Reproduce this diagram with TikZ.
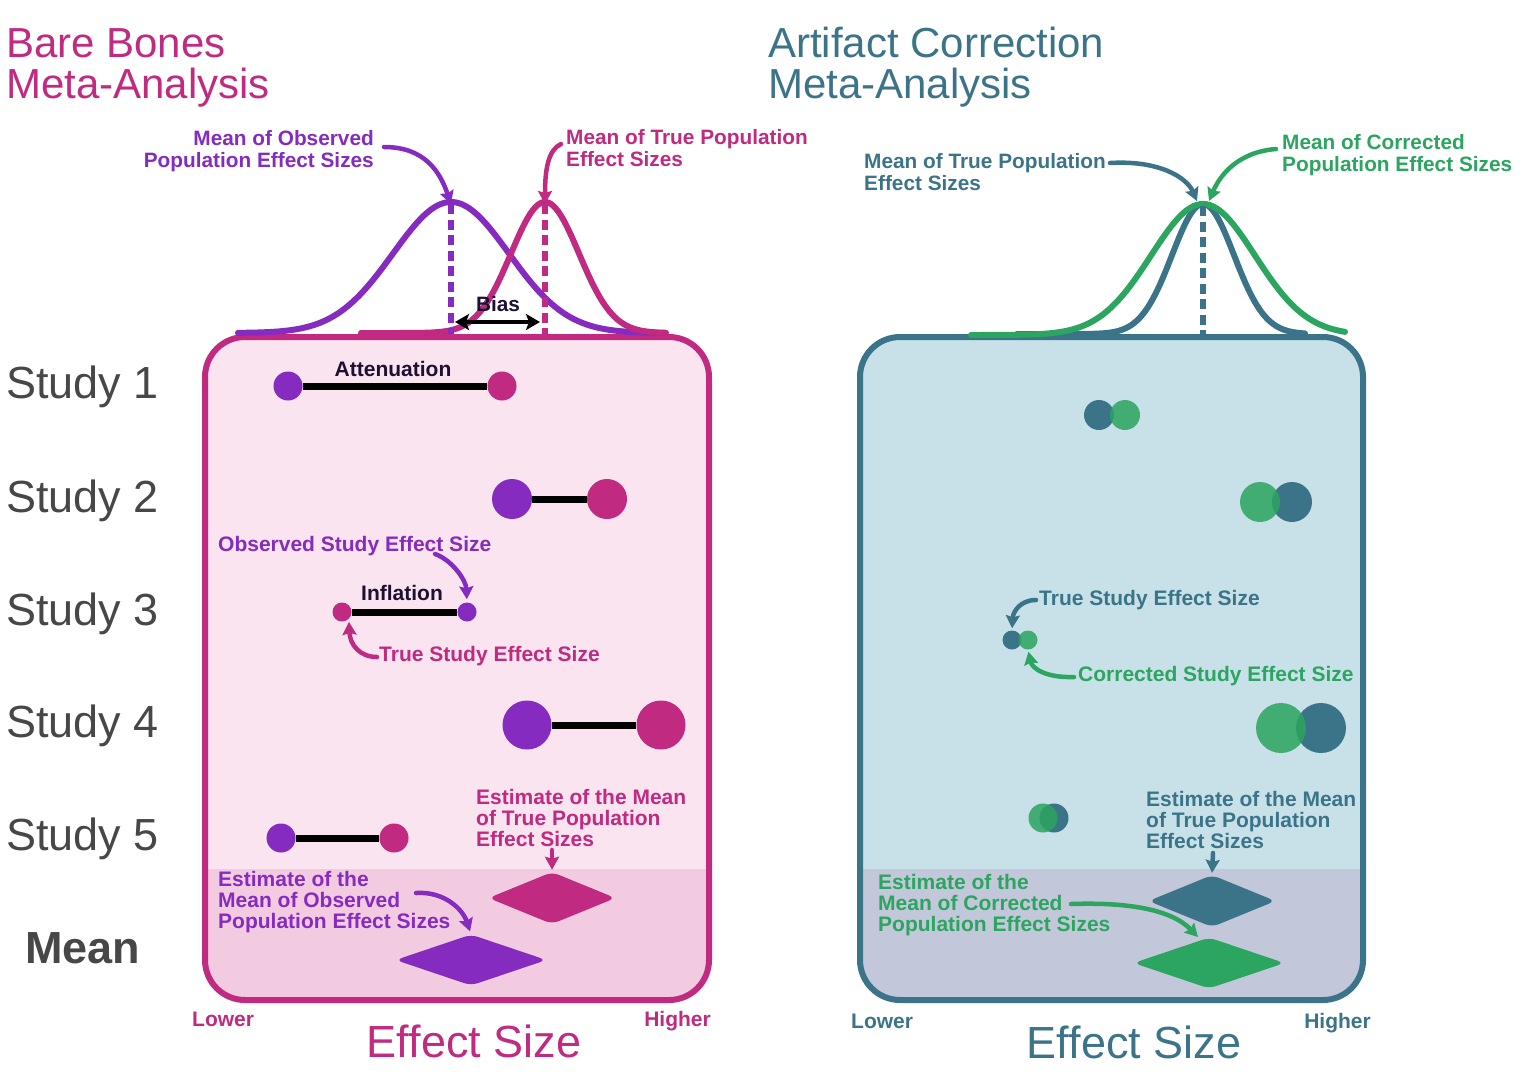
\documentclass[tikz,border=0pt]{standalone}
\usepackage{fontspec}
\setmainfont{Liberation Sans}
\usepackage{xcolor}
\usepackage{tikz}
\usetikzlibrary{arrows.meta,shapes.geometric,calc}
\tikzset{>={Stealth[length=13pt,width=14pt,inset=2pt]}}
\definecolor{obsPurple}{HTML}{862BBF}
\definecolor{truePink}{HTML}{C02A80}
\definecolor{artTeal}{HTML}{3B7489}
\definecolor{corGreen}{HTML}{2BA55F}
\definecolor{bgPink}{HTML}{F9E4F0}
\definecolor{bandPink}{HTML}{F2CBE1}
\definecolor{bgBlue}{HTML}{C8E1E8}
\definecolor{bandBlue}{HTML}{C2C7DA}
\definecolor{studyGrey}{HTML}{474747}
\definecolor{darkInk}{HTML}{1E1030}
\tikzstyle{effdot}   = [circle,inner sep=0pt]
\tikzstyle{cordot}   = [circle,inner sep=0pt,fill=corGreen,fill opacity=0.85]
\tikzstyle{estdia}   = [diamond,inner sep=0pt,rounded corners=7pt]
\tikzstyle{lab}      = [font=\fontsize{21}{21}\selectfont\bfseries,inner sep=0pt,align=left,anchor=base west]
\tikzstyle{toplab}   = [font=\fontsize{20.8}{21.5}\selectfont\bfseries,inner sep=0pt]
\tikzstyle{studylab} = [font=\fontsize{45}{45}\selectfont,text=studyGrey,inner sep=0pt,anchor=base west]
\tikzstyle{headlab}  = [font=\fontsize{42}{42}\selectfont,inner sep=0pt,anchor=base west]
\tikzstyle{axislab}  = [font=\fontsize{45}{45}\selectfont,inner sep=0pt,anchor=base]
\tikzstyle{linkbar}  = [line width=7pt,black]
\tikzstyle{pointer}  = [->,line width=4.5pt,line cap=round]
\tikzstyle{bell}     = [line width=6pt,line cap=round]
\tikzstyle{meanline} = [line width=6pt,dash pattern=on 10pt off 5.5pt]

\begin{document}
\begin{tikzpicture}[x=1pt,y=-1pt]
	\useasboundingbox (0,0) rectangle (1522,1076);
	
	\begin{scope}
		\clip[rounded corners=40pt] (205,337) rectangle (709,1000);
		\fill[bgPink] (205,337) rectangle (709,1000);
		\fill[bandPink] (205,869) rectangle (709,1000);
	\end{scope}
	\draw[line width=6pt,truePink,rounded corners=40pt] (205,337) rectangle (709,1000);
	
	\begin{scope}
		\clip[rounded corners=40pt] (860,337) rectangle (1363,1000);
		\fill[bgBlue] (860,337) rectangle (1363,1000);
		\fill[bandBlue] (860,869) rectangle (1363,1000);
	\end{scope}
	\draw[line width=6pt,artTeal,rounded corners=40pt] (860,337) rectangle (1363,1000);
	
	\node[headlab,truePink] (hBB1) at (6,57) {Bare Bones};
	\node[headlab,truePink] (hBB2) at (6,98) {Meta-Analysis};
	\node[headlab,artTeal]  (hAC1) at (768,57) {Artifact Correction};
	\node[headlab,artTeal]  (hAC2) at (768,98) {Meta-Analysis};
	
	\node[studylab] (s1) at (6,398) {Study 1};
	\node[studylab] (s2) at (6,512) {Study 2};
	\node[studylab] (s3) at (6,625) {Study 3};
	\node[studylab] (s4) at (6,737) {Study 4};
	\node[studylab] (s5) at (6,850) {Study 5};
	\node[studylab,font=\fontsize{45}{45}\selectfont\bfseries] (sM) at (25,963) {Mean};
	
	% distributions
	\draw[bell,obsPurple] plot[domain=238:663,samples=120] (\x,{333-131*exp(-0.5*((\x-451)/58)^2)});
	\draw[bell,truePink]  plot[domain=361:666,samples=120] (\x,{333-131*exp(-0.5*((\x-545)/34)^2)});
	\draw[bell,artTeal]   plot[domain=1017:1305,samples=120] (\x,{334-130*exp(-0.5*((\x-1203)/31)^2)});
	\draw[bell,corGreen]  plot[domain=971:1345,samples=120] (\x,{335-131*exp(-0.5*((\x-1203)/52)^2)});
	
	\coordinate (pkObs)  at (451,204);
	\coordinate (pkTrue) at (545,204);
	\coordinate (pkArt)  at (1203,206);
	\coordinate (ftObs)  at (451,334);
	\coordinate (ftTrue) at (545,334);
	\coordinate (ftArt)  at (1203,335);
	\draw[meanline,obsPurple] (pkObs) -- (ftObs);
	\draw[meanline,truePink]  (pkTrue) -- (ftTrue);
	\draw[meanline,artTeal]   (pkArt) -- (ftArt);
	
	\coordinate (bL) at (455,322);
	\coordinate (bR) at (540,322);
	\draw[<->,line width=4.5pt,>={Stealth[length=14pt,width=16pt,inset=3pt]}] (bL) -- (bR);
	\node[toplab,darkInk,anchor=base] (bias) at (498,311) {Bias};
	
	% top labels
	\node[toplab,obsPurple,anchor=base east,align=right] (mObs) at (374,167) {Mean of Observed\\Population Effect Sizes};
	\node[toplab,truePink,anchor=base west,align=left] (mTrue) at (566,166) {Mean of True Population\\Effect Sizes};
	\node[toplab,artTeal,anchor=base west,align=left] (mArt) at (864,190) {Mean of True Population\\Effect Sizes};
	\node[toplab,corGreen,anchor=base west,align=left] (mCor) at (1282,171) {Mean of Corrected\\Population Effect Sizes};
	
	\coordinate (aObs) at (384,147);
	\coordinate (aTrue) at (561,144);
	\coordinate (aArt) at (1110,163);
	\coordinate (aCor) at (1276,149);
	\coordinate (tArt) at (1197,201);
	\coordinate (tCor) at (1209,201);
	\draw[pointer,obsPurple] (aObs) .. controls (425,147) and (440,172) .. (pkObs);
	\draw[pointer,truePink]  (aTrue) .. controls (548,150) and (545,170) .. (pkTrue);
	\draw[pointer,artTeal]   (aArt) .. controls (1160,160) and (1187,178) .. (tArt);
	\draw[pointer,corGreen]  (aCor) .. controls (1238,152) and (1220,175) .. (tCor);
	
	% bare bones studies
	\node[effdot,fill=obsPurple,minimum size=29pt] (o1) at (288,386) {};
	\node[effdot,fill=truePink, minimum size=29pt] (t1) at (502,386) {};
	\node[effdot,fill=obsPurple,minimum size=40pt] (o2) at (512,499) {};
	\node[effdot,fill=truePink, minimum size=40pt] (t2) at (607,499) {};
	\node[effdot,fill=truePink, minimum size=19pt] (t3) at (342,612) {};
	\node[effdot,fill=obsPurple,minimum size=19pt] (o3) at (467,612) {};
	\node[effdot,fill=obsPurple,minimum size=49pt] (o4) at (527,725) {};
	\node[effdot,fill=truePink, minimum size=49pt] (t4) at (661,725) {};
	\node[effdot,fill=obsPurple,minimum size=29pt] (o5) at (281,838) {};
	\node[effdot,fill=truePink, minimum size=29pt] (t5) at (394,838) {};
	
	\draw[linkbar] (o1) -- (t1);
	\draw[linkbar] (o2) -- (t2);
	\draw[linkbar] (t3) -- (o3);
	\draw[linkbar] (o4) -- (t4);
	\draw[linkbar] (o5) -- (t5);
	
	\node[lab,darkInk,anchor=base] (att) at (393,376) {Attenuation};
	\node[lab,darkInk,anchor=base] (inf) at (402,600) {Inflation};
	
	\node[lab,obsPurple] (lObs) at (218,551) {Observed Study Effect Size};
	\node[lab,truePink]  (lTrue) at (379,661) {True Study Effect Size};
	\coordinate (aO3) at (435,554);
	\coordinate (aT3) at (377,657);
	\draw[pointer,obsPurple,shorten >=3pt] (aO3) .. controls (452,560) and (466,580) .. (o3.north);
	\draw[pointer,truePink,shorten >=3pt]  (aT3) .. controls (360,657) and (350,645) .. (t3.south east);
	
	\node[estdia,fill=truePink, minimum width=127pt,minimum height=52pt] (dTrue) at (552,898) {};
	\node[estdia,fill=obsPurple,minimum width=151pt,minimum height=51pt] (dObs) at (471,960) {};
	\node[lab,truePink]  (eTrue) at (476,846) {Estimate of the Mean\\of True Population\\Effect Sizes};
	\node[lab,obsPurple] (eObs) at (218,928) {Estimate of the\\Mean of Observed\\Population Effect Sizes};
	\coordinate (aDT) at (552,850);
	\coordinate (aDO) at (416,893);
	\draw[pointer,truePink,shorten >=2pt] (aDT) -- (dTrue.north);
	\draw[pointer,obsPurple,shorten >=3pt] (aDO) .. controls (445,891) and (463,910) .. (dObs.north);
	
	% artifact correction studies
	\node[effdot,fill=artTeal,minimum size=30pt] (ta1) at (1099,415) {};
	\node[cordot,minimum size=30pt] (ca1) at (1125,415) {};
	\node[effdot,fill=artTeal,minimum size=40pt] (ta2) at (1292,502) {};
	\node[cordot,minimum size=40pt] (ca2) at (1260,502) {};
	\node[effdot,fill=artTeal,minimum size=19pt] (ta3) at (1012,640) {};
	\node[cordot,minimum size=19pt] (ca3) at (1028,640) {};
	\node[effdot,fill=artTeal,minimum size=50pt] (ta4) at (1321,728) {};
	\node[cordot,minimum size=50pt] (ca4) at (1281,728) {};
	\node[effdot,fill=artTeal,minimum size=29pt] (ta5) at (1054,818) {};
	\node[cordot,minimum size=29pt] (ca5) at (1043,818) {};
	
	\node[lab,artTeal]  (lArt) at (1039,605) {True Study Effect Size};
	\node[lab,corGreen] (lCor) at (1078,681) {Corrected Study Effect Size};
	\coordinate (aA3) at (1036,600);
	\coordinate (aC3) at (1074,677);
	\draw[pointer,artTeal,shorten >=2pt]  (aA3) .. controls (1020,600) and (1013,612) .. (ta3.north);
	\draw[pointer,corGreen,shorten >=2pt] (aC3) .. controls (1045,678) and (1032,668) .. (ca3.south);
	
	\node[estdia,fill=artTeal, minimum width=127pt,minimum height=52pt] (dArt) at (1212,901) {};
	\node[estdia,fill=corGreen,minimum width=151pt,minimum height=51pt] (dCor) at (1209,963) {};
	\node[lab,artTeal]  (eArt) at (1146,848) {Estimate of the Mean\\of True Population\\Effect Sizes};
	\node[lab,corGreen] (eCor) at (878,931) {Estimate of the\\Mean of Corrected\\Population Effect Sizes};
	\coordinate (aDA) at (1213,853);
	\coordinate (aDC) at (1071,904);
	\coordinate (tDC) at (1198,937);
	\draw[pointer,artTeal,shorten >=2pt] (aDA) -- (dArt.north);
	\draw[pointer,corGreen] (aDC) .. controls (1130,902) and (1172,910) .. (tDC);
	
	% axes
	\node[lab,truePink] (lowL) at (192,1026) {Lower};
	\node[lab,truePink,anchor=base east] (highL) at (711,1026) {Higher};
	\node[axislab,truePink] (axL) at (474,1057) {Effect Size};
	\node[lab,artTeal] (lowR) at (851,1028) {Lower};
	\node[lab,artTeal,anchor=base east] (highR) at (1371,1028) {Higher};
	\node[axislab,artTeal] (axR) at (1134,1058) {Effect Size};
\end{tikzpicture}
\end{document}
